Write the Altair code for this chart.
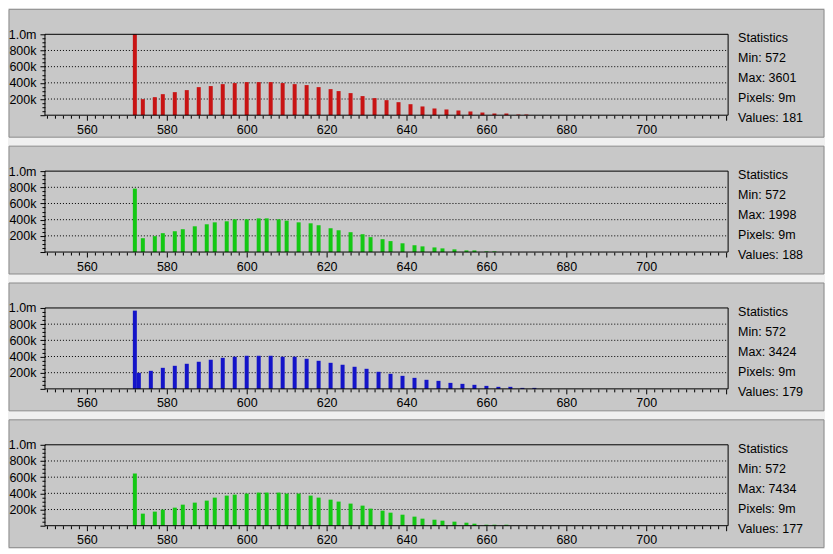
import altair as alt
import pandas as pd

# ---------------- data ----------------
p1_bins = [572, 574, 577, 579, 582, 585, 588, 591, 594, 597,
           600, 603, 606, 609, 612, 615, 618, 621, 623, 626,
           629, 632, 635, 638, 641, 644, 647, 650, 653, 656,
           659, 662, 665, 668, 670]
p1_vals = [1000000, 198000, 223000, 260000, 285000, 310000, 347000, 360000, 384000, 397000,
           409000, 409000, 409000, 397000, 384000, 372000, 347000, 322000, 298000, 273000,
           236000, 211000, 186000, 161000, 136000, 108000, 83000, 71000, 58000, 46000,
           33000, 21000, 21000, 8000, 8000]

p2_bins = [572, 574, 577, 579, 582, 584, 587, 590, 592, 595,
           597, 600, 603, 605, 608, 610, 613, 616, 618, 621,
           623, 626, 629, 631, 634, 636, 639, 642, 644, 647,
           649, 652, 655, 657, 660, 662]
p2_vals = [784000, 171000, 196000, 233000, 257000, 282000, 318000, 343000, 367000, 380000,
           404000, 404000, 416000, 416000, 404000, 388000, 367000, 355000, 331000, 294000,
           269000, 245000, 220000, 184000, 159000, 135000, 108000, 84000, 70000, 57000,
           45000, 33000, 20000, 20000, 8000, 8000]

p3_bins = [572, 573, 576, 579, 582, 585, 588, 591, 594, 597,
           600, 603, 606, 609, 612, 615, 618, 621, 624, 627,
           630, 633, 636, 639, 642, 645, 648, 651, 654, 657,
           660, 663, 666, 669, 672]
p3_vals = [967000, 198000, 223000, 260000, 285000, 310000, 335000, 360000, 384000, 397000,
           409000, 409000, 409000, 397000, 397000, 372000, 347000, 322000, 298000, 273000,
           248000, 211000, 186000, 161000, 136000, 112000, 99000, 74000, 62000, 50000,
           37000, 25000, 25000, 12000, 12000]

p4_bins = [572, 574, 577, 579, 582, 584, 587, 590, 592, 595,
           597, 600, 603, 605, 608, 610, 613, 616, 618, 621,
           623, 626, 629, 631, 634, 636, 639, 642, 644, 647,
           649, 652, 655, 657, 660, 662, 665]
p4_vals = [645000, 149000, 174000, 198000, 223000, 260000, 285000, 310000, 347000, 372000,
           384000, 397000, 409000, 409000, 409000, 397000, 397000, 372000, 347000, 322000,
           298000, 273000, 248000, 211000, 186000, 161000, 136000, 112000, 87000, 74000,
           62000, 50000, 37000, 25000, 12000, 12000, 12000]

stats1 = ["Statistics", "Min: 572", "Max: 3601", "Pixels: 9m", "Values: 181"]
stats2 = ["Statistics", "Min: 572", "Max: 1998", "Pixels: 9m", "Values: 188"]
stats3 = ["Statistics", "Min: 572", "Max: 3424", "Pixels: 9m", "Values: 179"]
stats4 = ["Statistics", "Min: 572", "Max: 7434", "Pixels: 9m", "Values: 177"]

colors = ["#c81414", "#14c814", "#1414c8", "#14c814"]

x_domain = [549.5, 720.5]
y_domain = [0, 1000000]
x_ticks = list(range(550, 721, 2))
y_ticks = list(range(0, 1000001, 50000))
grid_values = [200000, 400000, 600000, 800000]

# ---------------- style ----------------
FONT = "Liberation Sans"
FS = 12.5
W, H = 684, 81
PANEL_BG = "#c8c8c8"
BOX_STROKE = "#8c8c8c"
PAGE_BG = "#f0f0f0"


def make_yaxis():
    return alt.Axis(
        values=y_ticks,
        tickSize={"condition": {"test": "datum.value % 200000 === 0", "value": 5}, "value": 3},
        labelExpr="(datum.value > 0 && datum.value % 200000 === 0) ? (datum.value >= 1000000 ? '1.0m' : format(datum.value / 1000, 'd') + 'k') : ''",
        labelOverlap=False, labelFlush=False, domain=False, grid=False, title=None,
        labelFont=FONT, labelFontSize=FS, labelColor="black", tickColor="black",
        labelPadding=4, zindex=1,
    )


def make_xaxis():
    return alt.Axis(
        values=x_ticks,
        tickSize={"condition": {"test": "datum.value % 20 === 0", "value": 5}, "value": 3},
        labelExpr="(datum.value % 20 === 0 && datum.value <= 700) ? datum.label : ''",
        labelOverlap=False, labelFlush=False, domain=False, grid=False, title=None,
        labelFont=FONT, labelFontSize=FS, labelColor="black", tickColor="black",
        labelPadding=3, zindex=1, format="d",
    )


def panel(bins, vals, color, stats):
    df = pd.DataFrame({"value": bins, "count": vals})
    one = pd.DataFrame({"k": [0]})
    xs = alt.Scale(domain=x_domain, nice=False, zero=False, padding=0)
    ys = alt.Scale(domain=y_domain, nice=False, zero=True)

    box = alt.Chart(one).mark_rect(fill=PANEL_BG, stroke=BOX_STROKE, strokeWidth=1).encode(
        x=alt.value(-36), x2=alt.value(780), y=alt.value(-25), y2=alt.value(103)
    )
    grid = alt.Chart(pd.DataFrame({"g": grid_values})).mark_rule(
        color="black", strokeDash=[1, 2], strokeWidth=1
    ).encode(
        y=alt.Y("g:Q", scale=ys, axis=make_yaxis()), x=alt.value(0), x2=alt.value(W)
    )
    bars = alt.Chart(df).mark_bar(color=color, size=4).encode(
        x=alt.X("value:Q", scale=xs, axis=make_xaxis()),
        y=alt.Y("count:Q", scale=ys, axis=make_yaxis()),
    )
    frame = alt.Chart(one).mark_rect(filled=False, stroke="black", strokeWidth=1).encode(
        x=alt.value(0), x2=alt.value(W), y=alt.value(0), y2=alt.value(H)
    )
    text = alt.Chart(one).mark_text(
        align="left", baseline="alphabetic", font=FONT, fontSize=FS,
        lineHeight=20, color="black"
    ).encode(
        x=alt.value(694), y=alt.value(8), text=alt.value(stats)
    )
    return alt.layer(box, grid, bars, frame, text).properties(width=W, height=H)


chart = alt.vconcat(
    panel(p1_bins, p1_vals, colors[0], stats1),
    panel(p2_bins, p2_vals, colors[1], stats2),
    panel(p3_bins, p3_vals, colors[2], stats3),
    panel(p4_bins, p4_vals, colors[3], stats4),
    spacing=7,
).properties(
    background=PAGE_BG, padding=0
).configure_view(strokeWidth=0)

chart.save("out.html", embed_options={"renderer": "svg", "actions": False})
